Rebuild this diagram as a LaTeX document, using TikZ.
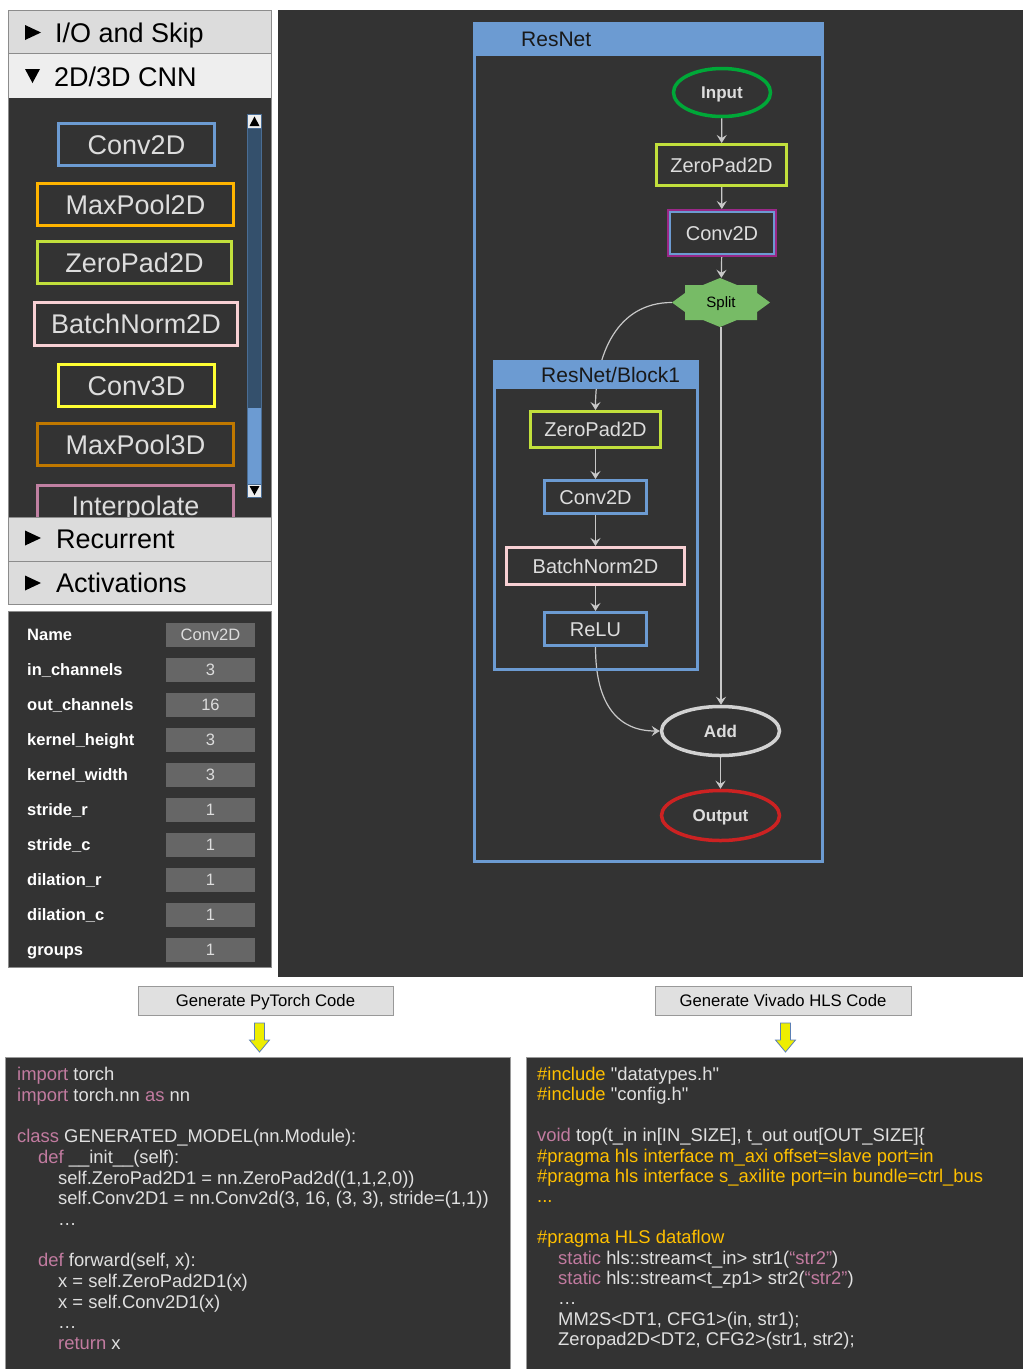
\documentclass[tikz,border=0pt]{standalone}
\usepackage{fontspec}
\setmainfont{Liberation Sans}
\usetikzlibrary{arrows.meta,calc,shapes.geometric}
\definecolor{dark}{HTML}{333333}
\definecolor{hdrgray}{HTML}{DCDCDC}
\definecolor{hdrlight}{HTML}{EEEEEE}
\definecolor{panelline}{HTML}{8C8C8C}
\definecolor{nodetxt}{HTML}{DDDDDD}
\definecolor{convblue}{HTML}{6C9BD2}
\definecolor{poolorange}{HTML}{FFB400}
\definecolor{padlime}{HTML}{C2E03C}
\definecolor{bnpink}{HTML}{F8D0D4}
\definecolor{cthreeyellow}{HTML}{FFFF33}
\definecolor{poolthree}{HTML}{C07800}
\definecolor{interp}{HTML}{C080A2}
\definecolor{trackblue}{HTML}{34506C}
\definecolor{trackedge}{HTML}{4A6D94}
\definecolor{thumbblue}{HTML}{6C9BD2}
\definecolor{valgray}{HTML}{666666}
\definecolor{inputgreen}{HTML}{00A838}
\definecolor{addgray}{HTML}{D2D2D2}
\definecolor{outred}{HTML}{CC2222}
\definecolor{convpurple}{HTML}{9A2888}
\definecolor{splitgreen}{HTML}{77BB66}
\definecolor{edgec}{HTML}{C8C8C8}
\definecolor{btnfill}{HTML}{E0E0E0}
\definecolor{btnborder}{HTML}{999999}
\definecolor{arrowyellow}{HTML}{EEEE00}
\definecolor{arrowblue}{HTML}{5B7FB5}
\definecolor{kwc}{HTML}{C27BA0}
\definecolor{ylc}{HTML}{FFC000}
\definecolor{codetxt}{HTML}{E0E0E0}
\definecolor{codeborder}{HTML}{9A9A9A}
\newcommand\fsz[1]{\fontsize{#1}{#1}\selectfont}
\newcommand\kw[1]{\textcolor{kwc}{#1}}
\newcommand\yl[1]{\textcolor{ylc}{#1}}
\begin{document}
\begin{tikzpicture}[x=1pt,y=-1pt,
  hdrtext/.style={anchor=base west, inner sep=0pt, text=black, font=\fsz{27}},
  palbox/.style={draw, line width=3pt, fill=dark, text=nodetxt, font=\fsz{27}, inner sep=0pt, text height=19.3pt, text depth=0pt, minimum height=42pt},
  proplab/.style={anchor=west, inner sep=0pt, text=white, font=\bfseries\fsz{16.5}, text height=11.8pt, text depth=0pt},
  propval/.style={fill=valgray, minimum width=89pt, minimum height=24pt, inner sep=0pt, text=nodetxt, font=\fsz{16.5}, text height=11.8pt, text depth=0pt},
  gbox/.style={draw, line width=3pt, fill=dark, text=nodetxt, font=\fsz{20}, inner sep=0pt, text height=14.3pt, text depth=0pt},
  gell/.style={ellipse, draw, line width=3.5pt, fill=dark, text=nodetxt, font=\bfseries\fsz{17}, inner sep=0pt, text height=12.2pt, text depth=0pt},
  grptitle/.style={anchor=base west, inner sep=0pt, text=black!90, font=\fsz{21}},
  edge/.style={draw=edgec, line width=1.2pt, -{Stealth[length=8pt,width=10pt,inset=3pt]}},
  btn/.style={draw=btnborder, fill=btnfill, line width=1pt, text=black, font=\fsz{16.7}, text height=12pt, text depth=0pt, inner sep=0pt, minimum height=29pt},
  codeln/.style={anchor=base west, inner sep=0pt, text=codetxt, font=\fsz{18.4}},
  yarrow/.style={fill=arrowyellow, draw=arrowblue, line width=0.8pt, line join=miter}
]
\useasboundingbox (0,0) rectangle (1023,1369);
\fill[white] (0,0) rectangle (1023,1369);

% ---------- left palette ----------
\fill[hdrgray] (8,10) rectangle (271,53);
\fill[hdrlight] (8,53) rectangle (271,98);
\fill[dark] (8,98) rectangle (271,517);
\node[hdrtext] (hio) at (55,42) {I/O and Skip};
\node[hdrtext] (hcnn) at (54,86) {2D/3D CNN};
\fill[black] (25,25) -- (41,32.5) -- (25,40) -- cycle;
\fill[black] (25,69) -- (40,69) -- (32.5,83) -- cycle;

\node[palbox, draw=convblue, minimum width=156pt] (pconv2) at (136.5,144.5) {Conv2D};
\node[palbox, draw=poolorange, minimum width=196pt] (ppool2) at (135.5,204.5) {MaxPool2D};
\node[palbox, draw=padlime, minimum width=194pt] (ppad2) at (134.5,262.5) {ZeroPad2D};
\node[palbox, draw=bnpink, minimum width=203pt, minimum height=43pt] (pbn2) at (136,324) {BatchNorm2D};
\node[palbox, draw=cthreeyellow, minimum width=156pt] (pconv3) at (136.5,385.5) {Conv3D};
\node[palbox, draw=poolthree, minimum width=196pt] (ppool3) at (135.5,444.5) {MaxPool3D};
\node[palbox, draw=interp, minimum width=196pt] (pinterp) at (135.5,506) {Interpolate};

% scrollbar
\draw[fill=trackblue, draw=trackedge, line width=0.8pt] (247.5,114) rectangle (261.5,497);
\fill[thumbblue] (248,408) rectangle (261,484);
\draw[fill=hdrlight, draw=trackedge, line width=0.8pt] (247.5,114) rectangle (261.5,128);
\fill[black] (249.5,126) -- (259.5,126) -- (254.5,116.5) -- cycle;
\draw[fill=hdrlight, draw=trackedge, line width=0.8pt] (247.5,484) rectangle (261.5,497);
\fill[black] (249.5,486) -- (259.5,486) -- (254.5,495) -- cycle;

\fill[hdrgray] (8,517) rectangle (271,604);
\draw[panelline, line width=1pt] (8,53) -- (271,53);
\draw[panelline, line width=1pt] (8,517) -- (271,517);
\draw[panelline, line width=1pt] (8,561) -- (271,561);
\node[hdrtext] (hrec) at (56,548) {Recurrent};
\node[hdrtext] (hact) at (56,592) {Activations};
\fill[black] (25,530.5) -- (41,538) -- (25,545.5) -- cycle;
\fill[black] (25,575.5) -- (41,583) -- (25,590.5) -- cycle;
\draw[panelline, line width=1pt] (8,10) rectangle (271,604);

% ---------- properties ----------
\draw[fill=dark, draw=panelline, line width=1pt] (8,611) rectangle (271,967);
\foreach \lab/\val [count=\i from 0] in {Name/Conv2D, in\_channels/3, out\_channels/16, kernel\_height/3, kernel\_width/3, stride\_r/1, stride\_c/1, dilation\_r/1, dilation\_c/1, groups/1}{
  \node[proplab] (pl\i) at (27,{635+35*\i}) {\lab};
  \node[propval] (pv\i) at (210.5,{635+35*\i}) {\val};
}

% ---------- canvas ----------
\fill[dark] (278,10) rectangle (1023,977);
\draw[convblue, line width=3pt] (474.5,23.5) rectangle (822.5,861.5);
\fill[convblue] (473,22) rectangle (824,56);
\node[grptitle] (rnt) at (521,46.7) {ResNet};

\node[gell, draw=inputgreen, minimum width=97pt, minimum height=48pt] (input) at (722,92.5) {Input};
\node[gbox, draw=padlime, minimum width=130pt, minimum height=41pt] (zp1) at (721.5,165) {ZeroPad2D};
\node[gbox, draw=convpurple, minimum width=107pt, minimum height=45pt] (conv1) at (722,233) {Conv2D};
\draw[convblue, line width=2.5pt] ($(conv1.north west)+(3,3)$) rectangle ($(conv1.south east)+(-3,-3)$);
\fill[splitgreen] (720,278) -- (737,285) -- (757,285) -- (757,293) -- (770,302.5) -- (757,312) -- (757,320) -- (737,320) -- (720,327) -- (703,320) -- (685,320) -- (685,312) -- (672,302.5) -- (685,293) -- (685,285) -- (703,285) -- cycle;
\node[minimum width=98pt, minimum height=49pt, inner sep=0pt, text=black, font=\fsz{15}, text height=10.7pt, text depth=0pt] (split) at (721,302.5) {Split};

\node[gbox, draw=padlime, minimum width=130pt, minimum height=36pt] (bz) at (595.5,429.5) {ZeroPad2D};
\node[gbox, draw=convblue, minimum width=102pt, minimum height=33pt] (bc) at (595.5,497) {Conv2D};
\node[gbox, draw=bnpink, minimum width=178pt, minimum height=37pt] (bb) at (595.5,566) {BatchNorm2D};
\node[gbox, draw=convblue, minimum width=102pt, minimum height=33pt] (br) at (595.5,629) {ReLU};

\node[gell, draw=addgray, minimum width=118pt, minimum height=49pt] (add) at (720.5,731) {Add};
\node[gell, draw=outred, minimum width=118pt, minimum height=50pt] (output) at (720.5,815.5) {Output};

\draw[edge] (input) -- (zp1);
\draw[edge] (zp1) -- (conv1);
\draw[edge] (conv1) -- (split);
\draw[edge] (split.south) -- (split.south |- add.north);
\draw[edge] (split.west) .. controls +(-55,0) and +(0,-55) .. (bz.north);
\draw[edge] (bz) -- (bc);
\draw[edge] (bc) -- (bb);
\draw[edge] (bb) -- (br);
\draw[edge] (br.south) .. controls +(0,60) and +(-40,0) .. (add.west);
\draw[edge] (add) -- (output);

\draw[convblue, line width=3pt] (494.5,361.5) rectangle (697.5,669.5);
\fill[convblue] (493,360) rectangle (699,389);
\node[grptitle] (b1t) at (541,382.5) {ResNet/Block1};

% ---------- buttons & arrows ----------
\node[btn, minimum width=255pt] (btnpt) at (265.5,1000.5) {Generate PyTorch Code};
\node[btn, minimum width=256pt] (btnhls) at (783,1000.5) {Generate Vivado HLS Code};
\draw[yarrow] (254.5,1023) -- (264.5,1023) -- (264.5,1040) -- (269.5,1040) -- (259.5,1052) -- (249.5,1040) -- (254.5,1040) -- cycle;
\draw[yarrow] (780.5,1023) -- (790.5,1023) -- (790.5,1040) -- (795.5,1040) -- (785.5,1052) -- (775.5,1040) -- (780.5,1040) -- cycle;

% ---------- code panels ----------
\draw[fill=dark, draw=codeborder, line width=1pt] (5.5,1057.5) rectangle (510,1375);
\draw[fill=dark, draw=codeborder, line width=1pt] (526.5,1057.5) rectangle (1030,1375);

\node[codeln] (cl0) at (17,1080.5) {\kw{import} torch};
\node[codeln] (cl1) at (17,1101.2) {\kw{import} torch.nn \kw{as} nn};
\node[codeln] (cl3) at (17,1142.6) {\kw{class} GENERATED\_MODEL(nn.Module):};
\node[codeln] (cl4) at (38,1163.3) {\kw{def} \_\_init\_\_(self):};
\node[codeln] (cl5) at (58,1184) {self.ZeroPad2D1 = nn.ZeroPad2d((1,1,2,0))};
\node[codeln] (cl6) at (58,1204.7) {self.Conv2D1 = nn.Conv2d(3, 16, (3, 3), stride=(1,1))};
\node[codeln] (cl7) at (58,1225.4) {…};
\node[codeln] (cl9) at (38,1266.8) {\kw{def} forward(self, x):};
\node[codeln] (cl10) at (58,1287.5) {x = self.ZeroPad2D1(x)};
\node[codeln] (cl11) at (58,1308.2) {x = self.Conv2D1(x)};
\node[codeln] (cl12) at (58,1328.9) {…};
\node[codeln] (cl13) at (58,1349.6) {\kw{return} x};

\node[codeln] (cr0) at (537,1080.5) {\yl{\#include} \textquotedbl datatypes.h\textquotedbl};
\node[codeln] (cr1) at (537,1100.9) {\yl{\#include} \textquotedbl config.h\textquotedbl};
\node[codeln] (cr3) at (537,1141.7) {\kw{void} top(t\_in in[IN\_SIZE], t\_out out[OUT\_SIZE]\{};
\node[codeln, text=ylc] (cr4) at (537,1162.1) {\#pragma hls interface m\_axi offset=slave port=in};
\node[codeln, text=ylc] (cr5) at (537,1182.5) {\#pragma hls interface s\_axilite port=in bundle=ctrl\_bus};
\node[codeln, text=ylc] (cr6) at (537,1202.9) {...};
\node[codeln, text=ylc] (cr8) at (537,1243.7) {\#pragma HLS dataflow};
\node[codeln] (cr9) at (558,1264.1) {\kw{static} hls::stream<t\_in> str1(\kw{“str2”})};
\node[codeln] (cr10) at (558,1284.5) {\kw{static} hls::stream<t\_zp1> str2(\kw{“str2”})};
\node[codeln] (cr11) at (558,1304.9) {…};
\node[codeln] (cr12) at (558,1325.3) {MM2S<DT1, CFG1>(in, str1);};
\node[codeln] (cr13) at (558,1345.7) {Zeropad2D<DT2, CFG2>(str1, str2);};
\end{tikzpicture}
\end{document}
